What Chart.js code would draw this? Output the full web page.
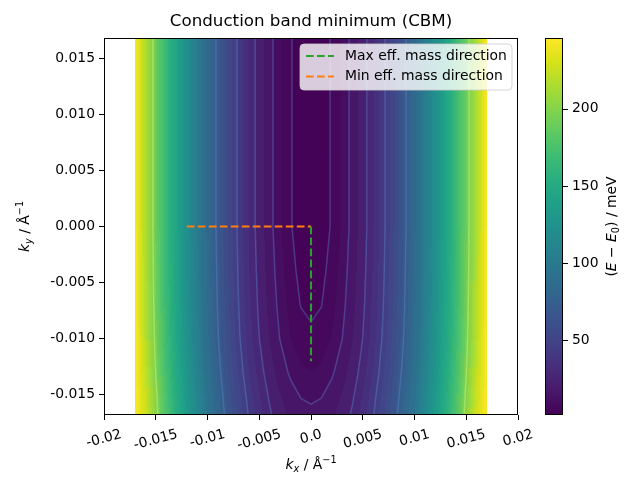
<!DOCTYPE html>
<html><head><meta charset="utf-8">
<script src="https://cdn.jsdelivr.net/npm/chart.js@4.4.0/dist/chart.umd.min.js"></script>
<style>html,body{margin:0;padding:0;background:#fff;}#wrap{width:640px;height:480px;}</style>
</head><body><div id="wrap"><canvas id="c" width="640" height="480"></canvas></div>
<script>
// ---- data ----
const kxValues = [-0.017,-0.016,-0.015,-0.014,-0.013,-0.012,-0.011,-0.010,-0.009,-0.008,-0.007,-0.006,-0.005,-0.004,-0.003,-0.002,-0.001,0.000,0.001,0.002,0.003,0.004,0.005,0.006,0.007,0.008,0.009,0.010,0.011,0.012,0.013,0.014,0.015,0.016,0.017];
const kyValues = [0.0168, 0.012, 0.006, 0.0, -0.004, -0.007, -0.010, -0.013, -0.015, -0.0168];
// energy (meV), one row per kyValues entry, one value per kxValues entry
const energyRow0 = [245,216,190,165,142,121,102,84,68.5,54,41.5,30.5,21.5,14,8.5,4.5,2.0,1.3,2.0,4.5,8.5,14,21.5,30.5,41.5,54,68.5,84,102,121,142,165,190,216,245];
const energyRow1 = [245,216,190,165,142,121,102,84,68.5,54,41.5,30.5,21.5,14,8.5,4.5,2.0,1.3,2.0,4.5,8.5,14,21.5,30.5,41.5,54,68.5,84,102,121,142,165,190,216,245];
const energyRow2 = [245,216,190,165,142,121,102,84,68.5,54,41.5,30.5,21.5,14,8.5,4.5,2.0,1.3,2.0,4.5,8.5,14,21.5,30.5,41.5,54,68.5,84,102,121,142,165,190,216,245];
const energyRow3 = [245,216,190,165,142,121,102,84,68.5,54,41.5,30.5,21.5,14,8.5,4.5,2.0,1.3,2.0,4.5,8.5,14,21.5,30.5,41.5,54,68.5,84,102,121,142,165,190,216,245];
const energyRow4 = [246,217,191,166,143,122,103,85,69.5,55,42.5,31.5,22.5,15,9.5,5.5,3.0,2.3,3.0,5.5,9.5,15,22.5,31.5,42.5,55,69.5,85,103,122,143,166,191,217,246];
const energyRow5 = [246,218,192,167,144,123,104,86,70.5,56,43.5,32.5,23.5,16,10.5,6.5,4.0,3.3,4.0,6.5,10.5,16,23.5,32.5,43.5,56,70.5,86,104,123,144,167,192,218,246];
const energyRow6 = [246,219.6,193.6,168.6,145.6,124.6,105.6,87.6,72.1,57.6,45.1,34.1,25.1,17.6,12.1,8.1,5.6,4.9,5.6,8.1,12.1,17.6,25.1,34.1,45.1,57.6,72.1,87.6,105.6,124.6,145.6,168.6,193.6,219.6,246];
const energyRow7 = [246,222.8,196.8,171.8,148.8,127.8,108.8,90.8,75.3,60.8,48.3,37.3,28.3,20.8,15.3,11.3,8.8,8.1,8.8,11.3,15.3,20.8,28.3,37.3,48.3,60.8,75.3,90.8,108.8,127.8,148.8,171.8,196.8,222.8,246];
const energyRow8 = [246,225.8,199.8,174.8,151.8,130.8,111.8,93.8,78.3,63.8,51.3,40.3,31.3,23.8,18.3,14.3,11.8,11.1,11.8,14.3,18.3,23.8,31.3,40.3,51.3,63.8,78.3,93.8,111.8,130.8,151.8,174.8,199.8,225.8,246];
const energyRow9 = [246,228.2,202.2,177.2,154.2,133.2,114.2,96.2,80.7,66.2,53.7,42.7,33.7,26.2,20.7,16.7,14.2,13.5,14.2,16.7,20.7,26.2,33.7,42.7,53.7,66.2,80.7,96.2,114.2,133.2,154.2,177.2,202.2,228.2,246];
const energyRows = [energyRow0,energyRow1,energyRow2,energyRow3,energyRow4,energyRow5,energyRow6,energyRow7,energyRow8,energyRow9];

const maxDirKx = [0, 0];
const maxDirKy = [0, -0.012];
const minDirKx = [-0.012, 0];
const minDirKy = [0, 0];

const xTickValues = [-0.02,-0.015,-0.01,-0.005,0,0.005,0.01,0.015,0.02];
const xTickLabels = ['-0.02','-0.015','-0.01','-0.005','0.0','0.005','0.01','0.015','0.02'];
const yTickValues = [-0.015,-0.01,-0.005,0,0.005,0.01,0.015];
const yTickLabels = ['-0.015','-0.010','-0.005','0.000','0.005','0.010','0.015'];
const cbTickValues = [50,100,150,200];
const cbTickLabels = ['50','100','150','200'];
const eMin = 1.3, eMax = 246;
const contourLevels = [4.1, 12.2, 25, 43.4, 71.3, 197];
const fillLevels = [1.3,4.1,8,12.2,18,25,31,37,43.4,49,55,61,67,71.3,76,81,86,91,96,101,106,111,116,121,126,131,136,141,146,151,156,161,166,171,176,181,186,191,197,202,207,212,217,222,227,232,237,241,246];
const legendLabels = ['Max eff. mass direction','Min eff. mass direction'];

// ---- styling helpers ----
const FONT = '"DejaVu Sans", "Liberation Sans", sans-serif';
const VIRIDIS = ['#440154','#48186a','#472d7b','#424086','#3b528b','#33638d','#2c728e','#26828e','#21918c','#1fa088','#28ae80','#3fbc73','#5ec962','#84d44b','#addc30','#d8e219','#fde725'].map(h=>[parseInt(h.slice(1,3),16),parseInt(h.slice(3,5),16),parseInt(h.slice(5,7),16)]);
function viridis(t){
  t = Math.max(0, Math.min(1, t));
  const p = t*(VIRIDIS.length-1); const i = Math.min(VIRIDIS.length-2, Math.floor(p)); const f = p - i;
  const a = VIRIDIS[i], b = VIRIDIS[i+1];
  return [a[0]+(b[0]-a[0])*f, a[1]+(b[1]-a[1])*f, a[2]+(b[2]-a[2])*f];
}
function fieldAt(kx, ky){
  const nx = kxValues.length, ny = kyValues.length;
  let i = 0; while (i < nx-2 && kx > kxValues[i+1]) i++;
  let j = 0; while (j < ny-2 && ky < kyValues[j+1]) j++;
  let tx = (kx - kxValues[i])/(kxValues[i+1]-kxValues[i]);
  let ty = (ky - kyValues[j])/(kyValues[j+1]-kyValues[j]);
  tx = Math.max(0, Math.min(1, tx)); ty = Math.max(0, Math.min(1, ty));
  const a = energyRows[j][i], b = energyRows[j][i+1], c = energyRows[j+1][i], d = energyRows[j+1][i+1];
  return a*(1-tx)*(1-ty) + b*tx*(1-ty) + c*(1-tx)*ty + d*tx*ty;
}
function bandColor(v){
  let k = 0; while (k < fillLevels.length-2 && v >= fillLevels[k+1]) k++;
  const mid = 0.5*(fillLevels[k]+fillLevels[k+1]);
  return viridis((mid - eMin)/(eMax - eMin));
}
function drawRich(ctx, parts, x, y, size, rot){
  ctx.save();
  ctx.translate(x, y); ctx.rotate(rot||0);
  let total = 0;
  const fonts = parts.map(p => {
    const s = (p.sub||p.sup) ? size*0.7 : size;
    const f = (p.italic ? 'italic ' : '') + s + 'px ' + FONT;
    ctx.font = f; const w = ctx.measureText(p.t).width; total += w;
    return {f, w, dy: p.sub ? size*0.22 : (p.sup ? -size*0.42 : 0)};
  });
  let cx = -total/2;
  ctx.fillStyle = '#000'; ctx.textBaseline = 'alphabetic'; ctx.textAlign = 'left';
  parts.forEach((p, i) => { ctx.font = fonts[i].f; ctx.fillText(p.t, cx, size*0.36 + fonts[i].dy); cx += fonts[i].w; });
  ctx.restore();
}

const fieldPlugin = {
  id: 'field',
  beforeDatasetsDraw(chart){
    const {ctx, chartArea: ca, scales: {x: xs, y: ys}} = chart;
    const w = Math.round(ca.right - ca.left), h = Math.round(ca.bottom - ca.top);
    const off = document.createElement('canvas'); off.width = w; off.height = h;
    const octx = off.getContext('2d'); const img = octx.createImageData(w, h);
    const kxLo = kxValues[0], kxHi = kxValues[kxValues.length-1];
    const kyLo = kyValues[kyValues.length-1], kyHi = kyValues[0];
    for (let px = 0; px < w; px++){
      const kx = xs.getValueForPixel(ca.left + px + 0.5);
      if (kx < kxLo || kx > kxHi) continue;
      for (let py = 0; py < h; py++){
        const ky = ys.getValueForPixel(ca.top + py + 0.5);
        if (ky < kyLo - 1e-9 || ky > kyHi + 1e-9) continue;
        const c = bandColor(fieldAt(kx, ky));
        const o = (py*w + px)*4;
        img.data[o] = c[0]; img.data[o+1] = c[1]; img.data[o+2] = c[2]; img.data[o+3] = 255;
      }
    }
    octx.putImageData(img, 0, 0);
    ctx.save();
    ctx.drawImage(off, ca.left, ca.top);
    // contour lines (marching squares on the data grid)
    ctx.beginPath(); ctx.rect(ca.left, ca.top, ca.right-ca.left, ca.bottom-ca.top); ctx.clip();
    ctx.lineWidth = 1.5; ctx.lineCap = 'round';
    contourLevels.forEach((L, li) => {
      ctx.strokeStyle = li === contourLevels.length-1 ? 'rgba(205,240,110,0.5)' : 'rgba(95,140,215,0.36)';
      ctx.beginPath();
      for (let j = 0; j < kyValues.length-1; j++){
        for (let i = 0; i < kxValues.length-1; i++){
          const P = [
            {x: kxValues[i], y: kyValues[j], v: energyRows[j][i]},
            {x: kxValues[i+1], y: kyValues[j], v: energyRows[j][i+1]},
            {x: kxValues[i+1], y: kyValues[j+1], v: energyRows[j+1][i+1]},
            {x: kxValues[i], y: kyValues[j+1], v: energyRows[j+1][i]}];
          const pts = [];
          for (let e = 0; e < 4; e++){
            const a = P[e], b = P[(e+1)%4];
            if ((a.v < L) !== (b.v < L)){
              const t = (L - a.v)/(b.v - a.v);
              pts.push([xs.getPixelForValue(a.x + t*(b.x-a.x)), ys.getPixelForValue(a.y + t*(b.y-a.y))]);
            }
          }
          for (let k = 0; k + 1 < pts.length; k += 2){
            ctx.moveTo(pts[k][0], pts[k][1]); ctx.lineTo(pts[k+1][0], pts[k+1][1]);
          }
        }
      }
      ctx.stroke();
    });
    ctx.restore();
  },
  afterDraw(chart){
    const {ctx, chartArea: ca, scales: {x: xs, y: ys}} = chart;
    ctx.save();
    // frame
    ctx.strokeStyle = '#000'; ctx.lineWidth = 1;
    ctx.strokeRect(Math.round(ca.left)+0.5, Math.round(ca.top)+0.5, Math.round(ca.right-ca.left)-1, Math.round(ca.bottom-ca.top)-1);
    // x tick labels (rotated 15deg, centered)
    const ts = 13.9, rot = 15*Math.PI/180;
    ctx.font = ts + 'px ' + FONT; ctx.fillStyle = '#000'; ctx.textAlign = 'center'; ctx.textBaseline = 'middle';
    xTickValues.forEach((v, i) => {
      const lbl = xTickLabels[i]; const w = ctx.measureText(lbl).width; const hh = 16;
      const bh = w*Math.sin(rot) + hh*Math.cos(rot);
      const px = xs.getPixelForValue(v), py = ca.bottom + 5 + 6.5 + bh/2;
      ctx.save(); ctx.translate(px, py); ctx.rotate(-rot); ctx.fillText(lbl, 0, 0); ctx.restore();
    });
    // title
    ctx.font = '16.7px ' + FONT; ctx.textAlign = 'center'; ctx.textBaseline = 'middle';
    ctx.fillText('Conduction band minimum (CBM)', (ca.left+ca.right)/2, 22);
    // axis titles
    drawRich(ctx, [{t:'k',italic:true},{t:'x',italic:true,sub:true},{t:' / Å'},{t:'−1',sup:true}], (ca.left+ca.right)/2, 464, 13.9, 0);
    drawRich(ctx, [{t:'k',italic:true},{t:'y',italic:true,sub:true},{t:' / Å'},{t:'−1',sup:true}], 24, (ca.top+ca.bottom)/2, 13.9, -Math.PI/2);
    // colorbar
    const cbL = 545, cbW = 18, cbT = ca.top, cbB = ca.bottom;
    for (let py = Math.floor(cbT); py < cbB; py++){
      const v = eMax - (py + 0.5 - cbT)/(cbB - cbT)*(eMax - eMin);
      const c = viridis((v - eMin)/(eMax - eMin));
      ctx.fillStyle = 'rgb(' + c.map(Math.round).join(',') + ')';
      ctx.fillRect(cbL, py, cbW, 1);
    }
    ctx.strokeStyle = '#000'; ctx.lineWidth = 1;
    ctx.strokeRect(cbL+0.5, Math.round(cbT)+0.5, cbW-1, Math.round(cbB-cbT)-1);
    ctx.font = ts + 'px ' + FONT; ctx.fillStyle = '#000'; ctx.textAlign = 'left'; ctx.textBaseline = 'middle';
    cbTickValues.forEach((v, i) => {
      const py = cbB - (v - eMin)/(eMax - eMin)*(cbB - cbT);
      ctx.beginPath(); ctx.moveTo(cbL+cbW, Math.round(py)+0.5); ctx.lineTo(cbL+cbW+5, Math.round(py)+0.5); ctx.stroke();
      ctx.fillText(cbTickLabels[i], cbL+cbW+5+4, py);
    });
    drawRich(ctx, [{t:'('},{t:'E',italic:true},{t:' − '},{t:'E',italic:true},{t:'0',sub:true},{t:') / meV'}], 611, (ca.top+ca.bottom)/2, 13.9, -Math.PI/2);
    // legend
    const lx = 300, ly = 44, lw = 212, lh = 46, r = 4;
    ctx.beginPath();
    ctx.moveTo(lx+r, ly); ctx.lineTo(lx+lw-r, ly); ctx.quadraticCurveTo(lx+lw, ly, lx+lw, ly+r);
    ctx.lineTo(lx+lw, ly+lh-r); ctx.quadraticCurveTo(lx+lw, ly+lh, lx+lw-r, ly+lh);
    ctx.lineTo(lx+r, ly+lh); ctx.quadraticCurveTo(lx, ly+lh, lx, ly+lh-r);
    ctx.lineTo(lx, ly+r); ctx.quadraticCurveTo(lx, ly, lx+r, ly); ctx.closePath();
    ctx.fillStyle = 'rgba(255,255,255,0.8)'; ctx.fill();
    ctx.strokeStyle = 'rgba(204,204,204,0.8)'; ctx.lineWidth = 1; ctx.stroke();
    const ds = chart.data.datasets;
    [56, 76.5].forEach((yy, i) => {
      ctx.save();
      ctx.strokeStyle = ds[i].borderColor; ctx.lineWidth = 2.1; ctx.setLineDash([7.7, 3.3]);
      ctx.beginPath(); ctx.moveTo(306, yy); ctx.lineTo(334, yy); ctx.stroke();
      ctx.restore();
      ctx.fillStyle = '#000'; ctx.font = ts + 'px ' + FONT; ctx.textAlign = 'left'; ctx.textBaseline = 'middle';
      ctx.fillText(legendLabels[i], 345, yy);
    });
    ctx.restore();
  }
};

new Chart(document.getElementById('c'), {
  type: 'scatter',
  data: {
    datasets: [
      {label: legendLabels[0], data: maxDirKx.map((x, i) => ({x, y: maxDirKy[i]})), showLine: true, borderColor: '#2ca02c', backgroundColor: '#2ca02c', borderWidth: 2.1, borderDash: [7.7, 3.3], pointRadius: 0, fill: false},
      {label: legendLabels[1], data: minDirKx.map((x, i) => ({x, y: minDirKy[i]})), showLine: true, borderColor: '#ff7f0e', backgroundColor: '#ff7f0e', borderWidth: 2.1, borderDash: [7.7, 3.3], pointRadius: 0, fill: false}
    ]
  },
  options: {
    responsive: false, animation: false, devicePixelRatio: 1,
    layout: {padding: {left: 0, right: 122, top: 38, bottom: 0}},
    plugins: {legend: {display: false}, tooltip: {enabled: false}, title: {display: false}},
    scales: {
      x: {
        type: 'linear', min: -0.02, max: 0.02,
        afterBuildTicks: s => { s.ticks = xTickValues.map(v => ({value: v})); },
        afterFit: s => { s.height = 65; },
        ticks: {autoSkip: false, color: 'rgba(0,0,0,0)', maxRotation: 0, minRotation: 0, font: {size: 13.9, family: FONT}},
        grid: {drawOnChartArea: false, drawTicks: true, tickLength: 5, color: '#000', lineWidth: 1},
        border: {display: false}
      },
      y: {
        type: 'linear', min: -0.0168, max: 0.0168,
        afterBuildTicks: s => { s.ticks = yTickValues.map(v => ({value: v})); },
        afterFit: s => { s.width = 104; },
        ticks: {autoSkip: false, color: '#000', padding: 4, font: {size: 13.9, family: FONT}, callback: (v, i) => yTickLabels[i]},
        grid: {drawOnChartArea: false, drawTicks: true, tickLength: 5, color: '#000', lineWidth: 1},
        border: {display: false}
      }
    }
  },
  plugins: [fieldPlugin]
});
</script>
</body></html>
